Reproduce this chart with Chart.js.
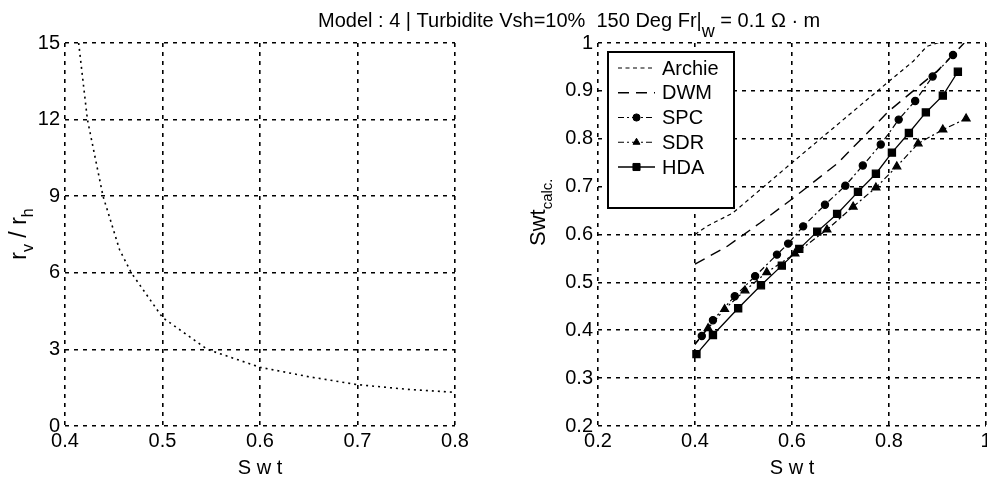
<!DOCTYPE html>
<html>
<head>
<meta charset="utf-8">
<script src="https://cdn.jsdelivr.net/npm/chart.js@4/dist/chart.umd.min.js"></script>
<style>
html,body{margin:0;padding:0;background:#fff;overflow:hidden;width:987px;height:481px}
canvas{position:absolute;left:0;top:0}
</style>
</head>
<body>
<canvas id="left" width="987" height="481"></canvas>
<canvas id="right" width="1000" height="481"></canvas>
<script>
// left panel: rv/rh against Swt
const leftSwt=[0.414,0.423,0.439,0.456,0.468,0.5,0.546,0.6,0.65,0.7,0.75,0.8];
const leftRatio=[15,12,9,6.9,6,4.25,3,2.3,1.93,1.62,1.44,1.32];

// right panel: Swt calc. against Swt
const seriesNames=['Archie','DWM','SPC','SDR','HDA'];
const archieSwt=[0.4,0.424,0.478,0.6,0.7,0.8,0.85,0.878,0.9,0.91];
const archieCalc=[0.6,0.617,0.645,0.75,0.835,0.92,0.962,0.993,1.0,1.0];
const dwmSwt=[0.4,0.466,0.534,0.596,0.693,0.8,0.9,0.955];
const dwmCalc=[0.538,0.575,0.624,0.671,0.748,0.858,0.942,1.0];
const spcSwt=[0.4,0.414,0.437,0.482,0.524,0.569,0.592,0.623,0.668,0.71,0.746,0.783,0.82,0.854,0.89,0.932];
const spcCalc=[0.37,0.388,0.421,0.471,0.513,0.558,0.581,0.617,0.662,0.702,0.744,0.788,0.84,0.879,0.93,0.975];
const sdrSwt=[0.4,0.427,0.461,0.503,0.548,0.606,0.672,0.726,0.773,0.816,0.86,0.911,0.959];
const sdrCalc=[0.372,0.404,0.444,0.483,0.521,0.56,0.61,0.658,0.698,0.742,0.79,0.819,0.842];
const hdaSwt=[0.403,0.437,0.489,0.536,0.579,0.615,0.652,0.693,0.736,0.773,0.806,0.841,0.876,0.911,0.942];
const hdaCalc=[0.35,0.39,0.446,0.494,0.535,0.57,0.606,0.643,0.689,0.727,0.771,0.812,0.855,0.89,0.94];

const leftXTicks=[0.4,0.5,0.6,0.7,0.8];
const leftYTicks=[0,3,6,9,12,15];
const rightXTicks=[0.2,0.4,0.6,0.8,1];
const rightYTicks=[0.2,0.3,0.4,0.5,0.6,0.7,0.8,0.9,1];

const FONT="'Liberation Sans', Arial, Helvetica, sans-serif";
Chart.defaults.font.family=FONT;
Chart.defaults.color='#000';

const pts=(xs,ys)=>xs.map((x,i)=>({x,y:ys[i]}));

function axis(ticks,fixed,isX,title){
  return {
    type:'linear',min:ticks[0],max:ticks[ticks.length-1],
    afterBuildTicks:s=>{s.ticks=ticks.map(v=>({value:v}));},
    afterFit:s=>{if(isX)s.height=fixed;else s.width=fixed;},
    grid:{color:'#000',lineWidth:1.6,drawTicks:false},
    border:{display:false,dash:[4,5]},
    ticks:{color:'#000',font:{size:20},padding:isX?3:5,maxRotation:0,autoSkip:false,
      callback:v=>String(+(+v).toFixed(2))},
    title:title?{display:true,text:title,font:{size:20},color:'#000',padding:{top:0,bottom:1}}:{display:false}
  };
}

// draws a run of text pieces (for subscripts) along the baseline
function pieces(ctx,list,x,y){
  let cx=x;
  list.forEach(p=>{
    ctx.font=p.size+'px '+FONT;
    ctx.fillText(p.t,cx,y+(p.dy||0));
    cx+=ctx.measureText(p.t).width;
  });
  return cx-x;
}
function piecesWidth(ctx,list){
  let w=0;
  list.forEach(p=>{ctx.font=p.size+'px '+FONT;w+=ctx.measureText(p.t).width;});
  return w;
}

const leftLabel={
  id:'leftLabel',
  afterDraw(chart){
    const ctx=chart.ctx;
    const lab=[{t:'r',size:23},{t:'v',size:16,dy:7},{t:' / ',size:23},{t:'r',size:23},{t:'h',size:16,dy:7}];
    ctx.save();
    ctx.fillStyle='#000';ctx.textBaseline='alphabetic';ctx.textAlign='left';
    const w=piecesWidth(ctx,lab);
    ctx.translate(26,234+w/2);
    ctx.rotate(-Math.PI/2);
    pieces(ctx,lab,0,0);
    ctx.restore();
  }
};

const rightDecor={
  id:'rightDecor',
  afterDraw(chart){
    const ctx=chart.ctx;
    ctx.save();
    ctx.fillStyle='#000';ctx.textBaseline='alphabetic';ctx.textAlign='left';
    // title
    pieces(ctx,[{t:'Model : 4 | Turbidite Vsh=10%  150 Deg Fr|',size:20},{t:'w',size:18,dy:10},{t:' = 0.1 \u03A9 \u00B7 m',size:20}],318,27);
    // y label
    ctx.save();
    ctx.translate(545,246);
    ctx.rotate(-Math.PI/2);
    pieces(ctx,[{t:'Swt',size:22},{t:'calc.',size:15,dy:7}],0,0);
    ctx.restore();
    // legend
    const bx=608,by=52,bw=126,bh=156;
    ctx.fillStyle='#fff';
    ctx.fillRect(bx,by,bw,bh);
    ctx.strokeStyle='#000';ctx.lineWidth=2;ctx.setLineDash([]);
    ctx.strokeRect(bx,by,bw,bh);
    ctx.font='20px '+FONT;ctx.textBaseline='middle';
    chart.data.datasets.forEach((ds,i)=>{
      const y=68+i*24.75;
      ctx.strokeStyle='#000';ctx.fillStyle='#000';
      ctx.lineWidth=ds.borderWidth;
      ctx.setLineDash(ds.borderDash||[]);
      ctx.beginPath();ctx.moveTo(618,y);ctx.lineTo(655,y);ctx.stroke();
      ctx.setLineDash([]);
      if(ds.legendRadius){
        ctx.lineWidth=1;
        Chart.helpers.drawPoint(ctx,{pointStyle:ds.pointStyle,radius:ds.legendRadius,rotation:0,borderWidth:1},636.5,y);
      }
      ctx.fillStyle='#000';
      ctx.font='20px '+FONT;
      ctx.fillText(ds.label,662,y+1);
    });
    ctx.restore();
  }
};

new Chart(document.getElementById('left'),{
  type:'line',
  data:{datasets:[{
    data:pts(leftSwt,leftRatio),
    borderColor:'#000',borderWidth:1.6,borderDash:[2,4],pointRadius:0,tension:0,fill:false
  }]},
  options:{
    responsive:false,animation:false,
    layout:{padding:{left:0,top:43,right:532,bottom:0}},
    plugins:{legend:{display:false},tooltip:{enabled:false}},
    scales:{x:axis(leftXTicks,55,true,'S w t'),y:axis(leftYTicks,65,false)}
  },
  plugins:[leftLabel]
});

const hideFirst=r=>c=>c.dataIndex===0?0:r;

new Chart(document.getElementById('right'),{
  type:'line',
  data:{datasets:[
    {label:seriesNames[0],data:pts(archieSwt,archieCalc),borderColor:'#000',backgroundColor:'#000',
      borderWidth:1.2,borderDash:[4,3.5],pointRadius:0,legendRadius:0,tension:0},
    {label:seriesNames[1],data:pts(dwmSwt,dwmCalc),borderColor:'#000',backgroundColor:'#000',
      borderWidth:1.4,borderDash:[11,7],pointRadius:0,legendRadius:0,tension:0},
    {label:seriesNames[2],data:pts(spcSwt,spcCalc),borderColor:'#000',backgroundColor:'#000',
      borderWidth:1.2,borderDash:[6,3,2,3],pointStyle:'circle',pointRadius:hideFirst(3.6),legendRadius:3.6,tension:0},
    {label:seriesNames[3],data:pts(sdrSwt,sdrCalc),borderColor:'#000',backgroundColor:'#000',
      borderWidth:1.2,borderDash:[6,3,2,3],pointStyle:'triangle',pointRadius:hideFirst(4.6),legendRadius:4,tension:0},
    {label:seriesNames[4],data:pts(hdaSwt,hdaCalc),borderColor:'#000',backgroundColor:'#000',
      borderWidth:1.3,borderDash:[],pointStyle:'rect',pointRadius:5,legendRadius:5,tension:0}
  ]},
  options:{
    responsive:false,animation:false,
    layout:{padding:{left:0,top:43,right:14,bottom:0}},
    plugins:{legend:{display:false},tooltip:{enabled:false}},
    scales:{x:axis(rightXTicks,55,true,'S w t'),y:axis(rightYTicks,598,false)}
  },
  plugins:[rightDecor]
});
</script>
</body>
</html>
